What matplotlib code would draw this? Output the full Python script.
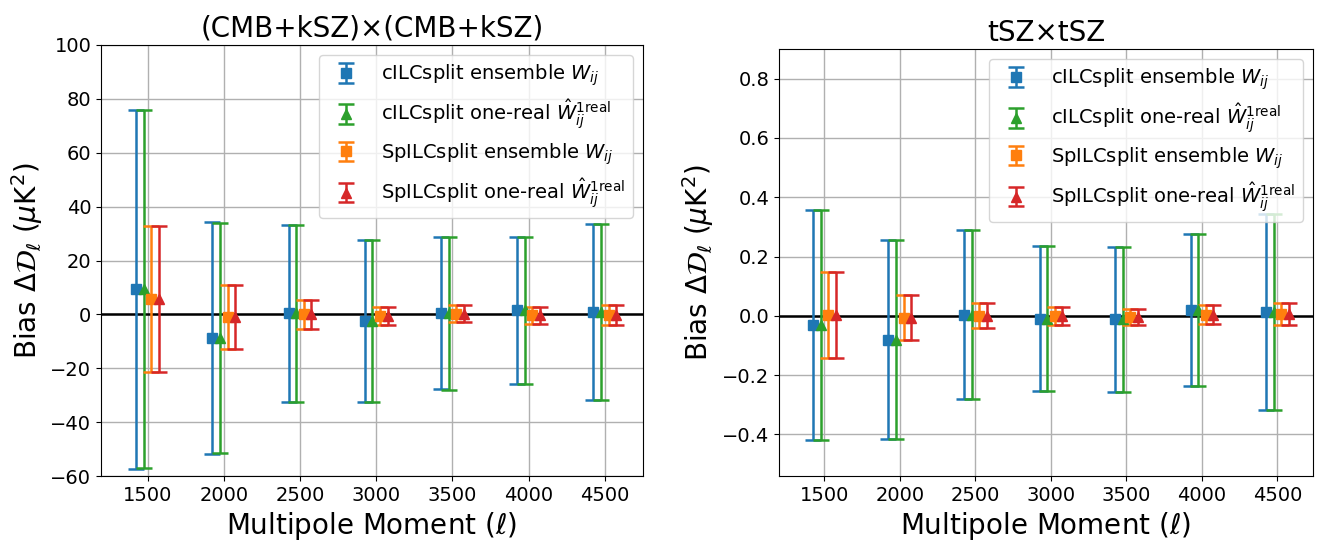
import numpy as np
import matplotlib
matplotlib.use("Agg")
import matplotlib.pyplot as plt

ell = np.array([1500, 2000, 2500, 3000, 3500, 4000, 4500])
offsets = [-75, -25, 25, 75]

labels = [r'cILCsplit ensemble $W_{ij}$',
          r'cILCsplit one-real $\hat{W}_{ij}^{\rm 1real}$',
          r'SpILCsplit ensemble $W_{ij}$',
          r'SpILCsplit one-real $\hat{W}_{ij}^{\rm 1real}$']
colors = ['#1f77b4', '#2ca02c', '#ff7f0e', '#d62728']
markers = ['s', '^', 's', '^']

# (CMB+kSZ)x(CMB+kSZ)
kszy_cilc_ens = [9.3, -8.7, 0.4, -2.4, 0.4, 1.5, 0.9]
kszy_cilc_ens_err = [66.6, 43.0, 32.9, 30.0, 28.2, 27.2, 32.8]
kszy_cilc_one = [9.3, -8.7, 0.4, -2.4, 0.5, 1.5, 0.9]
kszy_cilc_one_err = [66.5, 42.8, 32.9, 30.0, 28.4, 27.2, 32.8]
kszy_spilc_ens = [5.8, -1.0, 0.0, -0.5, 0.3, -0.3, -0.3]
kszy_spilc_ens_err = [27.1, 11.9, 5.3, 3.3, 3.0, 3.2, 3.8]
kszy_spilc_one = [5.8, -1.0, 0.0, -0.5, 0.3, -0.3, -0.3]
kszy_spilc_one_err = [27.1, 11.9, 5.3, 3.3, 3.0, 3.2, 3.8]

# tSZxtSZ
tsz_cilc_ens = [-0.030, -0.080, 0.004, -0.009, -0.012, 0.019, 0.012]
tsz_cilc_ens_err = [0.388, 0.336, 0.286, 0.245, 0.245, 0.257, 0.330]
tsz_cilc_one = [-0.031, -0.080, 0.004, -0.009, -0.012, 0.019, 0.012]
tsz_cilc_one_err = [0.388, 0.336, 0.286, 0.245, 0.245, 0.257, 0.330]
tsz_spilc_ens = [0.002, -0.006, 0.001, 0.000, -0.003, 0.004, 0.006]
tsz_spilc_ens_err = [0.145, 0.077, 0.042, 0.030, 0.027, 0.031, 0.037]
tsz_spilc_one = [0.002, -0.006, 0.001, 0.000, -0.003, 0.004, 0.006]
tsz_spilc_one_err = [0.145, 0.077, 0.042, 0.030, 0.027, 0.031, 0.037]

fig = plt.figure(figsize=(13.2, 5.4), dpi=100)
ax1 = fig.add_axes([101/1320, 1-476/540, 542/1320, 431/540])
ax2 = fig.add_axes([779/1320, 1-476/540, 534/1320, 427/540])

panels = [
    (ax1, [(kszy_cilc_ens, kszy_cilc_ens_err), (kszy_cilc_one, kszy_cilc_one_err),
           (kszy_spilc_ens, kszy_spilc_ens_err), (kszy_spilc_one, kszy_spilc_one_err)],
     '(CMB+kSZ)×(CMB+kSZ)', (-60, 100), (1194, 4751)),
    (ax2, [(tsz_cilc_ens, tsz_cilc_ens_err), (tsz_cilc_one, tsz_cilc_one_err),
           (tsz_spilc_ens, tsz_spilc_ens_err), (tsz_spilc_one, tsz_spilc_one_err)],
     'tSZ×tSZ', (-0.54, 0.90), (1200, 4736)),
]

for ax, series, title, ylim, xlim in panels:
    ax.set_axisbelow(True)
    ax.grid(True, color='#b0b0b0', lw=1)
    for (y, e), off, c, m, lab in zip(series, offsets, colors, markers, labels):
        ax.errorbar(ell + off, y, yerr=e, fmt=m, color=c, ms=6.5, capsize=6,
                    elinewidth=1.8, capthick=1.8, label=lab, zorder=3)
    ax.axhline(0, color='black', lw=1.8, zorder=2)
    ax.set_xlim(*xlim)
    ax.set_ylim(*ylim)
    ax.set_xticks(ell)
    ax.tick_params(labelsize=14)
    ax.set_title(title, fontsize=20)
    ax.set_xlabel(r'Multipole Moment ($\ell$)', fontsize=20)
    ax.set_ylabel(r'Bias $\Delta\mathcal{D}_\ell$ ($\mu$K$^2$)', fontsize=20)
    ax.legend(loc='upper right', fontsize=14)

fig.savefig('out.png', dpi=100)
